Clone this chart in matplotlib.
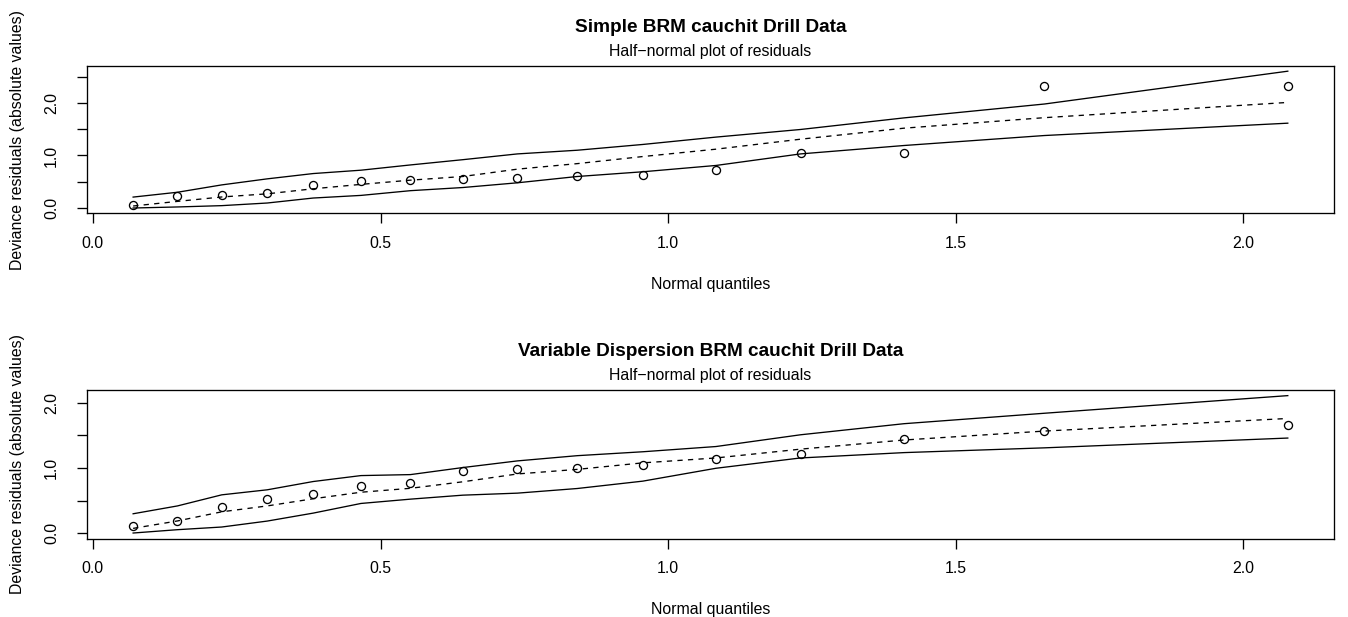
import matplotlib
matplotlib.use("Agg")
import matplotlib.pyplot as plt

plt.rcParams['font.family'] = ['Liberation Sans', 'DejaVu Sans']

# cuantiles normales (eje x)
x_q = [0.070, 0.147, 0.224, 0.303, 0.383, 0.466, 0.552, 0.643, 0.738,
       0.842, 0.956, 1.083, 1.230, 1.410, 1.654, 2.077]

# panel superior: Simple BRM
res1 = [0.057, 0.22, 0.252, 0.29, 0.435, 0.517, 0.536, 0.56, 0.568,
        0.606, 0.637, 0.726, 1.04, 1.04, 2.315, 2.32]
upper1 = [0.208, 0.30, 0.44, 0.555, 0.656, 0.72, 0.82, 0.92, 1.03,
          1.10, 1.21, 1.35, 1.495, 1.716, 1.98, 2.605]
med1 = [0.038, 0.126, 0.21, 0.27, 0.366, 0.45, 0.53, 0.6, 0.74,
        0.845, 0.98, 1.12, 1.31, 1.52, 1.72, 2.01]
lower1 = [0.0, 0.02, 0.045, 0.095, 0.19, 0.24, 0.33, 0.39, 0.48,
          0.60, 0.69, 0.81, 1.03, 1.19, 1.38, 1.615]

# panel inferior: Variable Dispersion BRM
res2 = [0.117, 0.183, 0.397, 0.53, 0.606, 0.723, 0.768, 0.962, 0.987,
        1.003, 1.053, 1.14, 1.22, 1.44, 1.567, 1.664]
upper2 = [0.30, 0.42, 0.59, 0.667, 0.794, 0.885, 0.90, 1.008, 1.11,
          1.19, 1.25, 1.33, 1.51, 1.68, 1.84, 2.11]
med2 = [0.076, 0.19, 0.33, 0.42, 0.53, 0.63, 0.69, 0.79, 0.91,
        0.98, 1.08, 1.155, 1.29, 1.43, 1.567, 1.76]
lower2 = [0.005, 0.056, 0.097, 0.188, 0.31, 0.458, 0.524, 0.585, 0.616,
          0.687, 0.80, 0.997, 1.155, 1.237, 1.31, 1.46]

titles = ['Simple BRM cauchit Drill Data', 'Variable Dispersion BRM cauchit Drill Data']
subtitle = 'Half\u2212normal plot of residuals'
xlabel = 'Normal quantiles'
ylabel = 'Deviance residuals (absolute values)'
xticks = [0.0, 0.5, 1.0, 1.5, 2.0]
yticks_list = [[0.0, 0.5, 1.0, 1.5, 2.0, 2.5], [0.0, 0.5, 1.0, 1.5, 2.0]]

fs = 11.4
lw = 0.95

fig = plt.figure(figsize=(13.48, 6.17), dpi=100)
ax1 = fig.add_axes([0.0645, 0.6540, 0.9251, 0.2395])
ax2 = fig.add_axes([0.0645, 0.1272, 0.9251, 0.2405])

panels = [(ax1, res1, upper1, med1, lower1), (ax2, res2, upper2, med2, lower2)]
for i, (ax, res, up, med, lo) in enumerate(panels):
    ax.plot(x_q, up, color='black', lw=lw)
    ax.plot(x_q, lo, color='black', lw=lw)
    ax.plot(x_q, med, color='black', lw=lw, ls=(0, (4, 4)))
    ax.plot(x_q, res, ls='none', marker='o', ms=5.8, mfc='none', mec='black', mew=lw)
    ax.margins(x=0.04, y=0.04)

    ax.set_xticks(xticks)
    ax.set_xticklabels(['%.1f' % v for v in xticks], fontsize=fs)
    yt = yticks_list[i]
    ax.set_yticks(yt)
    ax.set_yticklabels(['%.1f' % v if v in (0.0, 1.0, 2.0) else '' for v in yt],
                       fontsize=fs, rotation=90, va='center')
    ax.tick_params(length=7, width=lw, direction='out')
    ax.tick_params(axis='x', pad=9)
    ax.tick_params(axis='y', pad=13)
    for s in ax.spines.values():
        s.set_linewidth(lw)

    ax.set_xlabel(xlabel, fontsize=fs, labelpad=19)
    ax.set_ylabel(ylabel, fontsize=fs, labelpad=14)

    ax.annotate(titles[i], xy=(0.5, 1.0), xycoords='axes fraction',
                xytext=(0, 27.5), textcoords='offset points',
                ha='center', va='center', fontsize=13.7, fontweight='bold')
    ax.annotate(subtitle, xy=(0.5, 1.0), xycoords='axes fraction',
                xytext=(0, 10.5), textcoords='offset points',
                ha='center', va='center', fontsize=fs)

fig.savefig('out.png', dpi=100)
